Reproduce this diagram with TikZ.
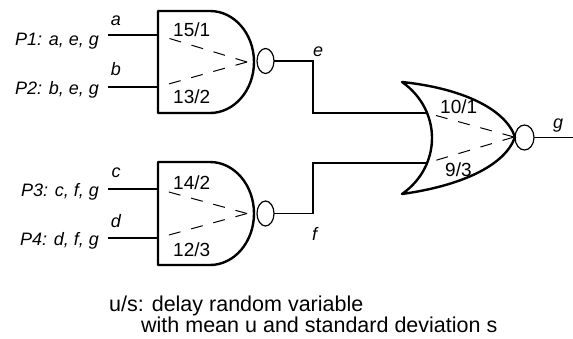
\documentclass[tikz,border=0pt]{standalone}
\usepackage{fontspec}
\setmainfont{Liberation Sans}
\usetikzlibrary{shapes.geometric}
\tikzset{
  gate/.style={
    draw,
    line width=2.4pt,
    line cap=round,
    line join=round
  },
  wire/.style={line width=1.2pt},
  delay/.style={line width=1pt,dash pattern=on 12pt off 11pt},
  bubble/.style={draw,ellipse,line width=1.2pt,inner sep=0pt,outer sep=0pt,
    minimum width=17pt,minimum height=25pt},
  pin/.style={font=\fontsize{18}{20}\selectfont\itshape,inner sep=0pt},
  num/.style={font=\fontsize{19}{21}\selectfont,inner sep=0pt},
  note/.style={font=\fontsize{21.5}{24}\selectfont,inner sep=0pt}
}

\begin{document}
\begin{tikzpicture}[x=1pt,y=-1pt]
\useasboundingbox (0,0) rectangle (573,338);

					% first nand
					\draw[gate] (158,11) -- (210,11) arc[start angle=-90,end angle=90,x radius=44,y radius=51] -- (158,113) -- cycle;
					\node[bubble] (bub1) at (265.5,61) {};
					\coordinate (g1a) at (158,35);
					\coordinate (g1b) at (158,87);
					\coordinate (g1tip) at (247,62);
					\coordinate (in_a) at (108,35);
					\coordinate (in_b) at (108,87);
					\draw[wire] (in_a) -- (g1a);
					\draw[wire] (in_b) -- (g1b);
					\draw[delay] (g1tip) -- (g1a);
					\draw[delay] (g1tip) -- (g1b);
					\node[num, anchor=base west] at (173,36) {15/1};
					\node[num, anchor=base west] at (173,103) {13/2};

					% second nand
					\draw[gate] (158,162) -- (210,162) arc[start angle=-90,end angle=90,x radius=44,y radius=51.5] -- (158,265) -- cycle;
					\node[bubble] (bub2) at (265.5,213.5) {};
					\coordinate (g2c) at (158,189);
					\coordinate (g2d) at (158,238);
					\coordinate (g2tip) at (247,213.5);
					\coordinate (in_c) at (108,189);
					\coordinate (in_d) at (108,238);
					\draw[wire] (in_c) -- (g2c);
					\draw[wire] (in_d) -- (g2d);
					\draw[delay] (g2tip) -- (g2c);
					\draw[delay] (g2tip) -- (g2d);
					\node[num, anchor=base west] at (173,189) {14/2};
					\node[num, anchor=base west] at (173,256) {12/3};

					% nor
					\draw[gate] (402,82) .. controls (442,110) and (442,166) .. (402,194)
					  .. controls (460,186) and (505,166) .. (515,137)
					  .. controls (505,108) and (460,88) .. (402,82);
					\node[bubble, minimum width=19pt] (bub3) at (524.5,137.5) {};
					\coordinate (or_e) at (427,113);
					\coordinate (or_f) at (427,163);
					\coordinate (or_tip) at (514,137);
					\coordinate (out_g) at (573,137.5);
					\draw[delay] (or_tip) -- (or_e);
					\draw[delay] (or_tip) -- (or_f);
					\node[num, anchor=base west] at (440,113) {10/1};
					\node[num, anchor=base west] at (445,176) {9/3};

					% wires between gates
					\draw[wire] (bub1.east) -- ++(39,0) |- (or_e);
					\draw[wire] (bub2.east) -- ++(39,0) |- (or_f);
					\draw[wire] (bub3.east) -- (out_g);

					% signal names
					\node[pin, anchor=base] at (116,25) {a};
					\node[pin, anchor=base] at (116,75) {b};
					\node[pin, anchor=base] at (116,177) {c};
					\node[pin, anchor=base] at (116,227) {d};
					\node[pin, anchor=base west] at (313,56) {e};
					\node[pin, anchor=base west] at (312,240) {f};
					\node[pin, anchor=base west] at (553,128) {g};

					\node[pin, anchor=base east] at (99,45) {P1: a, e, g};
					\node[pin, anchor=base east] at (99,94) {P2: b, e, g};
					\node[pin, anchor=base east] at (99,196) {P3: c, f, g};
					\node[pin, anchor=base east] at (99,245) {P4: d, f, g};

					% note
					\node[note, anchor=base west] at (109,311) {u/s: delay random variable};
					\node[note, anchor=base west] at (141,332) {with mean u and standard deviation s};

\end{tikzpicture}
\end{document}
